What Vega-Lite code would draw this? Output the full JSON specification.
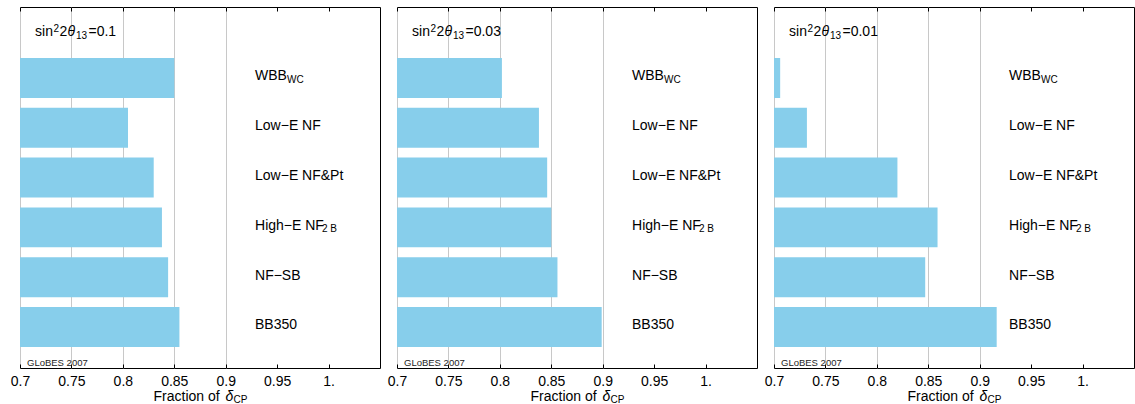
{
  "$schema": "https://vega.github.io/schema/vega-lite/v6.json",
  "padding": {"left": 9, "top": 6, "right": 0, "bottom": 0},
  "spacing": 5,
  "data": {"values": [
    {"panel": "a", "eq": "=0.1", "name": "WBB", "sub": "WC", "value": 0.850},
    {"panel": "a", "eq": "=0.1", "name": "Low−E NF", "sub": "", "value": 0.805},
    {"panel": "a", "eq": "=0.1", "name": "Low−E NF&Pt", "sub": "", "value": 0.830},
    {"panel": "a", "eq": "=0.1", "name": "High−E NF", "sub": "2 B", "value": 0.838},
    {"panel": "a", "eq": "=0.1", "name": "NF−SB", "sub": "", "value": 0.844},
    {"panel": "a", "eq": "=0.1", "name": "BB350", "sub": "", "value": 0.855},
    {"panel": "b", "eq": "=0.03", "name": "WBB", "sub": "WC", "value": 0.802},
    {"panel": "b", "eq": "=0.03", "name": "Low−E NF", "sub": "", "value": 0.838},
    {"panel": "b", "eq": "=0.03", "name": "Low−E NF&Pt", "sub": "", "value": 0.846},
    {"panel": "b", "eq": "=0.03", "name": "High−E NF", "sub": "2 B", "value": 0.850},
    {"panel": "b", "eq": "=0.03", "name": "NF−SB", "sub": "", "value": 0.856},
    {"panel": "b", "eq": "=0.03", "name": "BB350", "sub": "", "value": 0.899},
    {"panel": "c", "eq": "=0.01", "name": "WBB", "sub": "WC", "value": 0.706},
    {"panel": "c", "eq": "=0.01", "name": "Low−E NF", "sub": "", "value": 0.732},
    {"panel": "c", "eq": "=0.01", "name": "Low−E NF&Pt", "sub": "", "value": 0.820},
    {"panel": "c", "eq": "=0.01", "name": "High−E NF", "sub": "2 B", "value": 0.859},
    {"panel": "c", "eq": "=0.01", "name": "NF−SB", "sub": "", "value": 0.847},
    {"panel": "c", "eq": "=0.01", "name": "BB350", "sub": "", "value": 0.9165}
  ]},
  "hconcat": [
    {
      "width": 360, "height": 361,
      "transform": [{"filter": "datum.panel == 'a'"}],
      "encoding": {
        "y": {"field": "name", "type": "nominal", "sort": null, "axis": null,
              "scale": {"domain": ["WBB", "Low−E NF", "Low−E NF&Pt", "High−E NF", "NF−SB", "BB350"], "paddingInner": 0.197, "paddingOuter": 0.723, "align": 0.708}}
      },
      "layer": [
        {"mark": {"type": "bar", "color": "#87CEEB"},
         "encoding": {
           "x": {"field": "value", "type": "quantitative", "scale": {"domain": [0.7, 1.05], "zero": false, "nice": false},
                 "axis": {"orient": "bottom", "values": [0.7, 0.75, 0.8, 0.85, 0.9, 0.95, 1.0], "format": "~g", "labelExpr": "datum.value == 1 ? '1.' : datum.label",
                          "domain": false, "ticks": true, "tickSize": -4, "tickColor": "#000", "labelFlush": false, "labelBaseline": "alphabetic", "labelPadding": 21,
                          "labelFontSize": 14, "labelColor": "#000", "grid": true, "gridColor": "#c8c8c8",
                          "gridOpacity": {"condition": {"test": "datum.value < 0.92", "value": 1}, "value": 0},
                          "title": "Fraction of", "titleX": 133, "titleY": 32.5, "titleAlign": "left", "titleBaseline": "alphabetic", "titleFontSize": 14, "titleFontWeight": "normal", "titleColor": "#000"}},
           "x2": {"datum": 0.7}
         }},
        {"mark": {"type": "text", "align": "left", "baseline": "alphabetic", "dy": 2.5, "fontSize": 14, "color": "#000"},
         "encoding": {
           "x": {"datum": 0.9285, "type": "quantitative",
                 "axis": {"orient": "top", "values": [0.7, 0.75, 0.8, 0.85, 0.9, 0.95, 1.0], "labels": false, "domain": false, "grid": false, "ticks": true, "tickSize": -4, "tickColor": "#000", "title": null}},
           "text": {"field": "name"}
         }},
        {"transform": [{"filter": "datum.sub == 'WC'"}],
         "mark": {"type": "text", "align": "left", "baseline": "alphabetic", "dx": 32, "dy": 5, "fontSize": 10, "color": "#000"},
         "encoding": {
           "x": {"datum": 0.9285, "type": "quantitative",
                 "axis": {"orient": "bottom", "labels": false, "domain": false, "grid": false, "ticks": false,
                          "title": "CP", "titleX": 213, "titleY": 34.7, "titleAlign": "left", "titleBaseline": "alphabetic", "titleFontSize": 10, "titleFontWeight": "normal", "titleColor": "#000"}},
           "text": {"field": "sub"}
         }},
        {"transform": [{"filter": "datum.sub == '2 B'"}],
         "mark": {"type": "text", "align": "left", "baseline": "alphabetic", "dx": 67, "dy": 5, "fontSize": 10, "color": "#000"},
         "encoding": {"x": {"datum": 0.9285, "type": "quantitative",
                 "axis": {"orient": "bottom", "labels": false, "domain": false, "grid": false, "ticks": false,
                          "title": "δ", "titleX": 205, "titleY": 32.5, "titleAlign": "left", "titleBaseline": "alphabetic", "titleFontSize": 14, "titleFontWeight": "normal", "titleFontStyle": "italic", "titleColor": "#000"}},
           "text": {"field": "sub"}}},
        {"transform": [{"filter": "datum.name == 'WBB'"}],
         "mark": {"type": "text", "align": "left", "baseline": "alphabetic", "dy": -42, "fontSize": 14, "color": "#000"},
         "encoding": {"x": {"datum": 0.7146, "type": "quantitative", "axis": null}, "text": {"value": "sin"}}},
        {"transform": [{"filter": "datum.name == 'WBB'"}],
         "mark": {"type": "text", "align": "left", "baseline": "alphabetic", "dx": 18.5, "dy": -45.5, "fontSize": 10, "color": "#000"},
         "encoding": {"x": {"datum": 0.7146, "type": "quantitative", "axis": null}, "text": {"value": "2"}}},
        {"transform": [{"filter": "datum.name == 'WBB'"}],
         "mark": {"type": "text", "align": "left", "baseline": "alphabetic", "dx": 24.5, "dy": -42, "fontSize": 14, "color": "#000"},
         "encoding": {"x": {"datum": 0.7146, "type": "quantitative", "axis": null}, "text": {"value": "2"}}},
        {"transform": [{"filter": "datum.name == 'WBB'"}],
         "mark": {"type": "text", "align": "left", "baseline": "alphabetic", "dx": 32.5, "dy": -42, "fontSize": 14, "fontStyle": "italic", "color": "#000"},
         "encoding": {"x": {"datum": 0.7146, "type": "quantitative", "axis": null}, "text": {"value": "θ"}}},
        {"transform": [{"filter": "datum.name == 'WBB'"}],
         "mark": {"type": "text", "align": "left", "baseline": "alphabetic", "dx": 41, "dy": -38.7, "fontSize": 10, "color": "#000"},
         "encoding": {"x": {"datum": 0.7146, "type": "quantitative", "axis": null}, "text": {"value": "13"}}},
        {"transform": [{"filter": "datum.name == 'WBB'"}],
         "mark": {"type": "text", "align": "left", "baseline": "alphabetic", "dx": 53.5, "dy": -42, "fontSize": 14, "color": "#000"},
         "encoding": {"x": {"datum": 0.7146, "type": "quantitative", "axis": null}, "text": {"field": "eq"}}},
        {"transform": [{"filter": "datum.name == 'BB350'"}],
         "mark": {"type": "text", "align": "left", "baseline": "alphabetic", "dy": 39, "fontSize": 9.5, "color": "#222"},
         "encoding": {"x": {"datum": 0.7068, "type": "quantitative", "axis": null}, "text": {"value": "GLoBES 2007"}}}
      ],
      "resolve": {"axis": {"x": "independent"}}
    },
    {
      "width": 360, "height": 361,
      "transform": [{"filter": "datum.panel == 'b'"}],
      "encoding": {
        "y": {"field": "name", "type": "nominal", "sort": null, "axis": null,
              "scale": {"domain": ["WBB", "Low−E NF", "Low−E NF&Pt", "High−E NF", "NF−SB", "BB350"], "paddingInner": 0.197, "paddingOuter": 0.723, "align": 0.708}}
      },
      "layer": [
        {"mark": {"type": "bar", "color": "#87CEEB"},
         "encoding": {
           "x": {"field": "value", "type": "quantitative", "scale": {"domain": [0.7, 1.05], "zero": false, "nice": false},
                 "axis": {"orient": "bottom", "values": [0.7, 0.75, 0.8, 0.85, 0.9, 0.95, 1.0], "format": "~g", "labelExpr": "datum.value == 1 ? '1.' : datum.label",
                          "domain": false, "ticks": true, "tickSize": -4, "tickColor": "#000", "labelFlush": false, "labelBaseline": "alphabetic", "labelPadding": 21,
                          "labelFontSize": 14, "labelColor": "#000", "grid": true, "gridColor": "#c8c8c8",
                          "gridOpacity": {"condition": {"test": "datum.value < 0.92", "value": 1}, "value": 0},
                          "title": "Fraction of", "titleX": 133, "titleY": 32.5, "titleAlign": "left", "titleBaseline": "alphabetic", "titleFontSize": 14, "titleFontWeight": "normal", "titleColor": "#000"}},
           "x2": {"datum": 0.7}
         }},
        {"mark": {"type": "text", "align": "left", "baseline": "alphabetic", "dy": 2.5, "fontSize": 14, "color": "#000"},
         "encoding": {
           "x": {"datum": 0.9285, "type": "quantitative",
                 "axis": {"orient": "top", "values": [0.7, 0.75, 0.8, 0.85, 0.9, 0.95, 1.0], "labels": false, "domain": false, "grid": false, "ticks": true, "tickSize": -4, "tickColor": "#000", "title": null}},
           "text": {"field": "name"}
         }},
        {"transform": [{"filter": "datum.sub == 'WC'"}],
         "mark": {"type": "text", "align": "left", "baseline": "alphabetic", "dx": 32, "dy": 5, "fontSize": 10, "color": "#000"},
         "encoding": {
           "x": {"datum": 0.9285, "type": "quantitative",
                 "axis": {"orient": "bottom", "labels": false, "domain": false, "grid": false, "ticks": false,
                          "title": "CP", "titleX": 213, "titleY": 34.7, "titleAlign": "left", "titleBaseline": "alphabetic", "titleFontSize": 10, "titleFontWeight": "normal", "titleColor": "#000"}},
           "text": {"field": "sub"}
         }},
        {"transform": [{"filter": "datum.sub == '2 B'"}],
         "mark": {"type": "text", "align": "left", "baseline": "alphabetic", "dx": 67, "dy": 5, "fontSize": 10, "color": "#000"},
         "encoding": {"x": {"datum": 0.9285, "type": "quantitative",
                 "axis": {"orient": "bottom", "labels": false, "domain": false, "grid": false, "ticks": false,
                          "title": "δ", "titleX": 205, "titleY": 32.5, "titleAlign": "left", "titleBaseline": "alphabetic", "titleFontSize": 14, "titleFontWeight": "normal", "titleFontStyle": "italic", "titleColor": "#000"}},
           "text": {"field": "sub"}}},
        {"transform": [{"filter": "datum.name == 'WBB'"}],
         "mark": {"type": "text", "align": "left", "baseline": "alphabetic", "dy": -42, "fontSize": 14, "color": "#000"},
         "encoding": {"x": {"datum": 0.7146, "type": "quantitative", "axis": null}, "text": {"value": "sin"}}},
        {"transform": [{"filter": "datum.name == 'WBB'"}],
         "mark": {"type": "text", "align": "left", "baseline": "alphabetic", "dx": 18.5, "dy": -45.5, "fontSize": 10, "color": "#000"},
         "encoding": {"x": {"datum": 0.7146, "type": "quantitative", "axis": null}, "text": {"value": "2"}}},
        {"transform": [{"filter": "datum.name == 'WBB'"}],
         "mark": {"type": "text", "align": "left", "baseline": "alphabetic", "dx": 24.5, "dy": -42, "fontSize": 14, "color": "#000"},
         "encoding": {"x": {"datum": 0.7146, "type": "quantitative", "axis": null}, "text": {"value": "2"}}},
        {"transform": [{"filter": "datum.name == 'WBB'"}],
         "mark": {"type": "text", "align": "left", "baseline": "alphabetic", "dx": 32.5, "dy": -42, "fontSize": 14, "fontStyle": "italic", "color": "#000"},
         "encoding": {"x": {"datum": 0.7146, "type": "quantitative", "axis": null}, "text": {"value": "θ"}}},
        {"transform": [{"filter": "datum.name == 'WBB'"}],
         "mark": {"type": "text", "align": "left", "baseline": "alphabetic", "dx": 41, "dy": -38.7, "fontSize": 10, "color": "#000"},
         "encoding": {"x": {"datum": 0.7146, "type": "quantitative", "axis": null}, "text": {"value": "13"}}},
        {"transform": [{"filter": "datum.name == 'WBB'"}],
         "mark": {"type": "text", "align": "left", "baseline": "alphabetic", "dx": 53.5, "dy": -42, "fontSize": 14, "color": "#000"},
         "encoding": {"x": {"datum": 0.7146, "type": "quantitative", "axis": null}, "text": {"field": "eq"}}},
        {"transform": [{"filter": "datum.name == 'BB350'"}],
         "mark": {"type": "text", "align": "left", "baseline": "alphabetic", "dy": 39, "fontSize": 9.5, "color": "#222"},
         "encoding": {"x": {"datum": 0.7068, "type": "quantitative", "axis": null}, "text": {"value": "GLoBES 2007"}}}
      ],
      "resolve": {"axis": {"x": "independent"}}
    },
    {
      "width": 360, "height": 361,
      "transform": [{"filter": "datum.panel == 'c'"}],
      "encoding": {
        "y": {"field": "name", "type": "nominal", "sort": null, "axis": null,
              "scale": {"domain": ["WBB", "Low−E NF", "Low−E NF&Pt", "High−E NF", "NF−SB", "BB350"], "paddingInner": 0.197, "paddingOuter": 0.723, "align": 0.708}}
      },
      "layer": [
        {"mark": {"type": "bar", "color": "#87CEEB"},
         "encoding": {
           "x": {"field": "value", "type": "quantitative", "scale": {"domain": [0.7, 1.05], "zero": false, "nice": false},
                 "axis": {"orient": "bottom", "values": [0.7, 0.75, 0.8, 0.85, 0.9, 0.95, 1.0], "format": "~g", "labelExpr": "datum.value == 1 ? '1.' : datum.label",
                          "domain": false, "ticks": true, "tickSize": -4, "tickColor": "#000", "labelFlush": false, "labelBaseline": "alphabetic", "labelPadding": 21,
                          "labelFontSize": 14, "labelColor": "#000", "grid": true, "gridColor": "#c8c8c8",
                          "gridOpacity": {"condition": {"test": "datum.value < 0.92", "value": 1}, "value": 0},
                          "title": "Fraction of", "titleX": 133, "titleY": 32.5, "titleAlign": "left", "titleBaseline": "alphabetic", "titleFontSize": 14, "titleFontWeight": "normal", "titleColor": "#000"}},
           "x2": {"datum": 0.7}
         }},
        {"mark": {"type": "text", "align": "left", "baseline": "alphabetic", "dy": 2.5, "fontSize": 14, "color": "#000"},
         "encoding": {
           "x": {"datum": 0.9285, "type": "quantitative",
                 "axis": {"orient": "top", "values": [0.7, 0.75, 0.8, 0.85, 0.9, 0.95, 1.0], "labels": false, "domain": false, "grid": false, "ticks": true, "tickSize": -4, "tickColor": "#000", "title": null}},
           "text": {"field": "name"}
         }},
        {"transform": [{"filter": "datum.sub == 'WC'"}],
         "mark": {"type": "text", "align": "left", "baseline": "alphabetic", "dx": 32, "dy": 5, "fontSize": 10, "color": "#000"},
         "encoding": {
           "x": {"datum": 0.9285, "type": "quantitative",
                 "axis": {"orient": "bottom", "labels": false, "domain": false, "grid": false, "ticks": false,
                          "title": "CP", "titleX": 213, "titleY": 34.7, "titleAlign": "left", "titleBaseline": "alphabetic", "titleFontSize": 10, "titleFontWeight": "normal", "titleColor": "#000"}},
           "text": {"field": "sub"}
         }},
        {"transform": [{"filter": "datum.sub == '2 B'"}],
         "mark": {"type": "text", "align": "left", "baseline": "alphabetic", "dx": 67, "dy": 5, "fontSize": 10, "color": "#000"},
         "encoding": {"x": {"datum": 0.9285, "type": "quantitative",
                 "axis": {"orient": "bottom", "labels": false, "domain": false, "grid": false, "ticks": false,
                          "title": "δ", "titleX": 205, "titleY": 32.5, "titleAlign": "left", "titleBaseline": "alphabetic", "titleFontSize": 14, "titleFontWeight": "normal", "titleFontStyle": "italic", "titleColor": "#000"}},
           "text": {"field": "sub"}}},
        {"transform": [{"filter": "datum.name == 'WBB'"}],
         "mark": {"type": "text", "align": "left", "baseline": "alphabetic", "dy": -42, "fontSize": 14, "color": "#000"},
         "encoding": {"x": {"datum": 0.7146, "type": "quantitative", "axis": null}, "text": {"value": "sin"}}},
        {"transform": [{"filter": "datum.name == 'WBB'"}],
         "mark": {"type": "text", "align": "left", "baseline": "alphabetic", "dx": 18.5, "dy": -45.5, "fontSize": 10, "color": "#000"},
         "encoding": {"x": {"datum": 0.7146, "type": "quantitative", "axis": null}, "text": {"value": "2"}}},
        {"transform": [{"filter": "datum.name == 'WBB'"}],
         "mark": {"type": "text", "align": "left", "baseline": "alphabetic", "dx": 24.5, "dy": -42, "fontSize": 14, "color": "#000"},
         "encoding": {"x": {"datum": 0.7146, "type": "quantitative", "axis": null}, "text": {"value": "2"}}},
        {"transform": [{"filter": "datum.name == 'WBB'"}],
         "mark": {"type": "text", "align": "left", "baseline": "alphabetic", "dx": 32.5, "dy": -42, "fontSize": 14, "fontStyle": "italic", "color": "#000"},
         "encoding": {"x": {"datum": 0.7146, "type": "quantitative", "axis": null}, "text": {"value": "θ"}}},
        {"transform": [{"filter": "datum.name == 'WBB'"}],
         "mark": {"type": "text", "align": "left", "baseline": "alphabetic", "dx": 41, "dy": -38.7, "fontSize": 10, "color": "#000"},
         "encoding": {"x": {"datum": 0.7146, "type": "quantitative", "axis": null}, "text": {"value": "13"}}},
        {"transform": [{"filter": "datum.name == 'WBB'"}],
         "mark": {"type": "text", "align": "left", "baseline": "alphabetic", "dx": 53.5, "dy": -42, "fontSize": 14, "color": "#000"},
         "encoding": {"x": {"datum": 0.7146, "type": "quantitative", "axis": null}, "text": {"field": "eq"}}},
        {"transform": [{"filter": "datum.name == 'BB350'"}],
         "mark": {"type": "text", "align": "left", "baseline": "alphabetic", "dy": 39, "fontSize": 9.5, "color": "#222"},
         "encoding": {"x": {"datum": 0.7068, "type": "quantitative", "axis": null}, "text": {"value": "GLoBES 2007"}}}
      ],
      "resolve": {"axis": {"x": "independent"}}
    }
  ],
  "config": {
    "font": "Liberation Sans",
    "view": {"stroke": "#000", "strokeWidth": 1}
  }
}
